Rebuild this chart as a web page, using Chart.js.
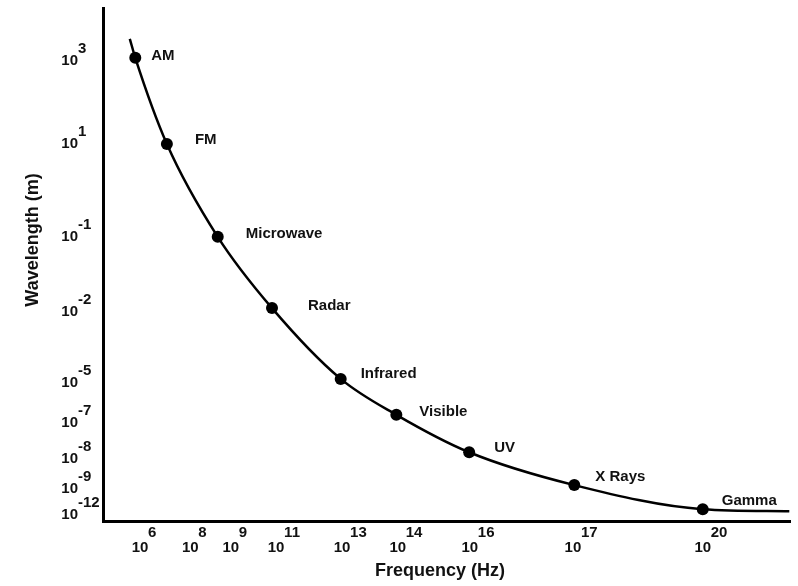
<!DOCTYPE html>
<html>
<head>
<meta charset="utf-8">
<script src="https://cdn.jsdelivr.net/npm/chart.js@4"></script>
<style>
body { margin: 0; background: #fff; }
#wrap { width: 798px; height: 586px; }
</style>
</head>
<body>
<div id="wrap"><canvas id="spectrumChart"></canvas></div>
<script>
// bands along the curve
var bands = ['AM', 'FM', 'Microwave', 'Radar', 'Infrared', 'Visible', 'UV', 'X Rays', 'Gamma'];
// powers of ten printed on the axes
var freqExp = ['6', '8', '9', '11', '13', '14', '16', '17', '20'];
var waveExp = ['3', '1', '-1', '-2', '-5', '-7', '-8', '-9', '-12'];
// where each band sits on the (not to scale) axes, 0-100
var bandX = [4.7, 9.3, 16.7, 24.6, 34.6, 42.7, 53.3, 68.6, 87.3];
var bandY = [90.3, 73.5, 55.4, 41.5, 27.7, 20.7, 13.4, 7.0, 2.3];
// tick positions on the same axes
var freqTicks = [5.4, 12.7, 18.6, 25.2, 34.8, 42.9, 53.4, 68.4, 87.3];
var waveTicks = [90.1, 73.9, 55.8, 41.1, 27.3, 19.5, 12.5, 6.6, 1.6];
// the curve runs a bit past the first and last band
var curveStart = [3.9, 94];
var curveEnd = [99.9, 1.9];

// label nudges in px (text left edge / middle, from the dot)
var labelDx = [16, 28, 28, 36, 20, 23, 25, 21, 19];
var labelDy = [-2, -4, -3, -2, -5, -3, -4, -8, -8];

var pts = [{ x: curveStart[0], y: curveStart[1] }];
for (var i = 0; i < bands.length; i++) {
    pts.push({ x: bandX[i], y: bandY[i] });
}
pts.push({ x: curveEnd[0], y: curveEnd[1] });

var radii = pts.map(function (p, i) { return (i == 0 || i == pts.length - 1) ? 0 : 6; });

var FONT = '"Liberation Sans", Arial, sans-serif';

var textPlugin = {
    id: 'spectrumText',
    afterDraw: function (chart) {
        var ctx = chart.ctx;
        var xs = chart.scales.x;
        var ys = chart.scales.y;
        var area = chart.chartArea;
        ctx.save();
        ctx.fillStyle = '#111';

        // band names next to the dots
        var meta = chart.getDatasetMeta(0);
        ctx.font = 'bold 15px ' + FONT;
        ctx.textAlign = 'left';
        ctx.textBaseline = 'middle';
        for (var i = 0; i < bands.length; i++) {
            var el = meta.data[i + 1];
            ctx.fillText(bands[i], el.x + labelDx[i], el.y + labelDy[i]);
        }

        // y ticks: 10 with exponent
        for (var j = 0; j < waveTicks.length; j++) {
            var py = ys.getPixelForValue(waveTicks[j]);
            ctx.font = 'bold 15px ' + FONT;
            ctx.textAlign = 'right';
            ctx.textBaseline = 'alphabetic';
            ctx.fillText('10', 78, py + 6);
            ctx.textAlign = 'left';
            ctx.fillText(waveExp[j], 78, py - 6);
        }

        // x ticks
        for (var k = 0; k < freqTicks.length; k++) {
            var px = xs.getPixelForValue(freqTicks[k]);
            ctx.font = 'bold 15px ' + FONT;
            ctx.textAlign = 'center';
            ctx.textBaseline = 'alphabetic';
            ctx.fillText('10', px, area.bottom + 31);
            ctx.textAlign = 'left';
            ctx.fillText(freqExp[k], px + 8, area.bottom + 16);
        }

        // axis titles
        ctx.font = 'bold 18px ' + FONT;
        ctx.textAlign = 'center';
        ctx.textBaseline = 'middle';
        ctx.fillText('Frequency (Hz)', 440, 571);
        ctx.translate(33, 240);
        ctx.rotate(-Math.PI / 2);
        ctx.fillText('Wavelength (m)', 0, 0);
        ctx.restore();
    }
};

var ctx = document.getElementById('spectrumChart').getContext('2d');
var spectrumChart = new Chart(ctx, {
    type: 'line',
    data: {
        datasets: [{
            data: pts,
            borderColor: '#000',
            borderWidth: 2.5,
            backgroundColor: '#000',
            pointBackgroundColor: '#000',
            pointBorderWidth: 0,
            pointRadius: radii,
            cubicInterpolationMode: 'monotone',
            fill: false
        }]
    },
    options: {
        responsive: true,
        maintainAspectRatio: false,
        animation: false,
        layout: { padding: { top: 8, right: 8, left: 0, bottom: 0 } },
        plugins: { legend: { display: false }, tooltip: { enabled: false } },
        scales: {
            x: {
                type: 'linear',
                min: 0,
                max: 100,
                grid: { display: false },
                border: { display: true, color: '#000', width: 3 },
                ticks: { display: false },
                afterFit: function (s) { s.height = 65; }
            },
            y: {
                type: 'linear',
                min: 0,
                max: 100,
                grid: { display: false },
                border: { display: true, color: '#000', width: 3 },
                ticks: { display: false },
                afterFit: function (s) { s.width = 103; }
            }
        }
    },
    plugins: [textPlugin]
});
</script>
</body>
</html>
